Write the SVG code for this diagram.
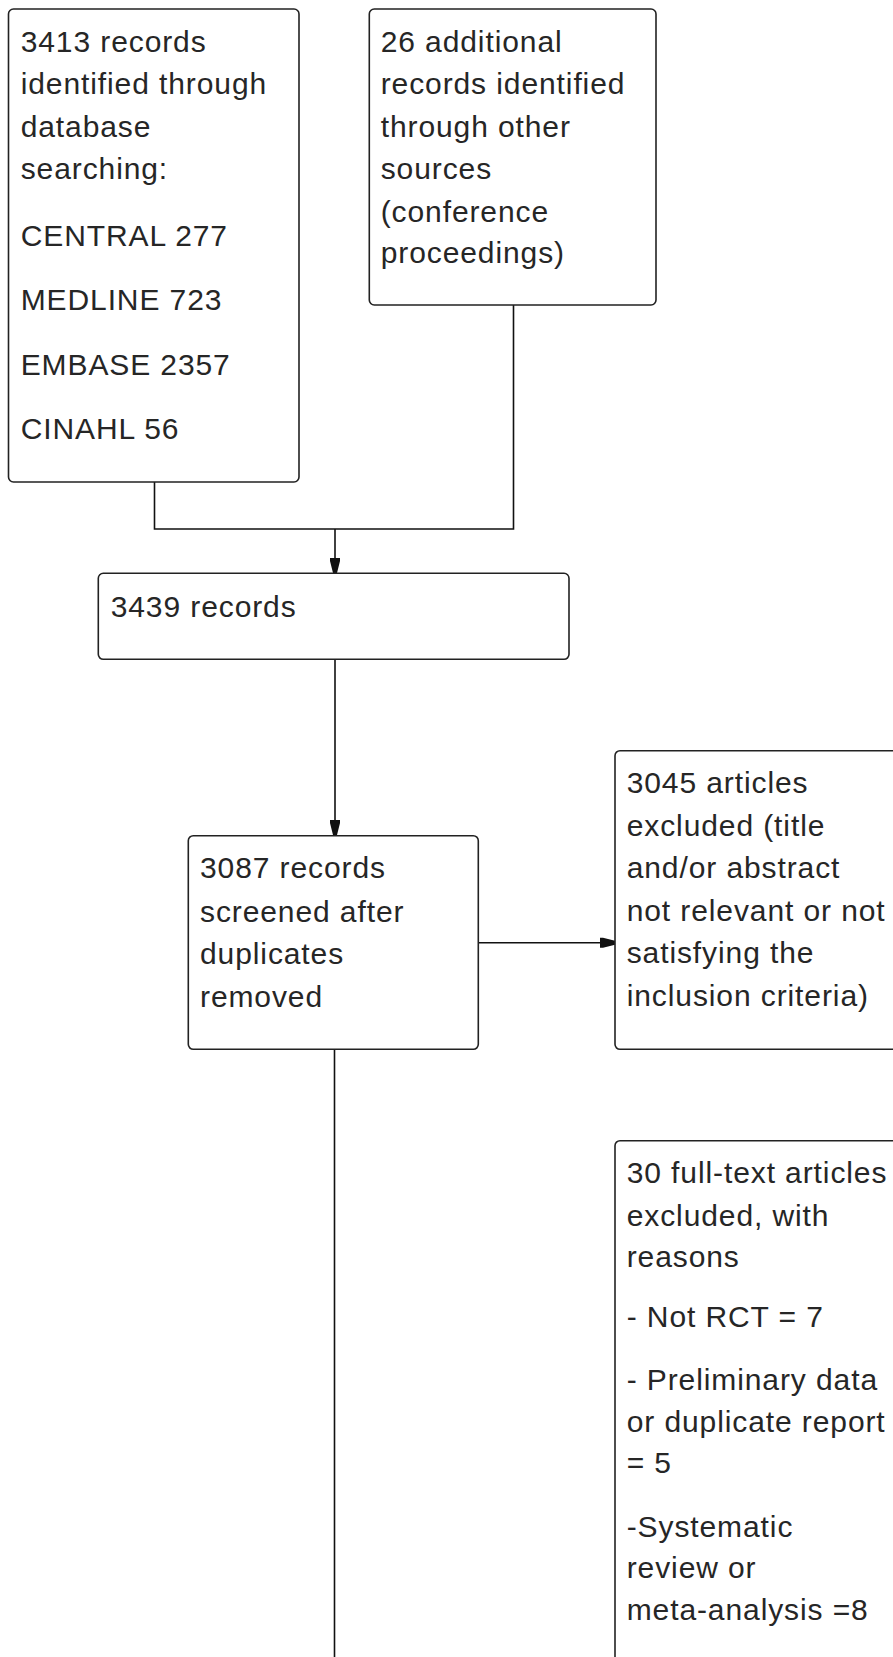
<svg xmlns="http://www.w3.org/2000/svg" width="893" height="1657" viewBox="0 0 893 1657">
<style>
.box{fill:#fff;stroke:#222;stroke-width:1.6}
.t{font-family:"Liberation Sans",Arial,sans-serif;font-size:30px;letter-spacing:0.9px;fill:#262626}
.c{fill:none;stroke:#111;stroke-width:1.6}
</style>
<defs>
<marker id="ah" viewBox="0 0 15 11" refX="15" refY="5.5" markerWidth="15" markerHeight="11" markerUnits="userSpaceOnUse" orient="auto">
<path d="M0,0.5 L3,0.5 L15,3.5 L15,7.5 L3,10.5 L0,10.5 Z" fill="#111"/>
</marker>
</defs>
<rect width="893" height="1657" fill="#fff"/>
<g id="connectors">
<path class="c" d="M154.5,482 V529 H513.5 V305"/>
<path class="c" d="M335,529 V573" marker-end="url(#ah)"/>
<path class="c" d="M335,659 V835" marker-end="url(#ah)"/>
<path class="c" d="M478.5,942.7 H615" marker-end="url(#ah)"/>
<path class="c" d="M334.5,1049 V1657"/>
</g>
<g id="n1">
<rect class="box" x="8.5" y="9" width="290.5" height="473" rx="5"/>
<text class="t" x="20.7" y="52.3">3413 records</text>
<text class="t" x="20.7" y="94">identified through</text>
<text class="t" x="20.7" y="136.7">database</text>
<text class="t" x="20.7" y="179">searching:</text>
<text class="t" x="20.7" y="245.7">CENTRAL 277</text>
<text class="t" x="20.7" y="310">MEDLINE 723</text>
<text class="t" x="20.7" y="375">EMBASE 2357</text>
<text class="t" x="20.7" y="439.3">CINAHL 56</text>
</g>
<g id="n2">
<rect class="box" x="369.3" y="9" width="286.7" height="296" rx="5"/>
<text class="t" x="380.7" y="52.3">26 additional</text>
<text class="t" x="380.7" y="94">records identified</text>
<text class="t" x="380.7" y="136.7">through other</text>
<text class="t" x="380.7" y="179">sources</text>
<text class="t" x="380.7" y="221.7">(conference</text>
<text class="t" x="380.7" y="263.3">proceedings)</text>
</g>
<g id="n3">
<rect class="box" x="98.3" y="573.3" width="470.7" height="86" rx="5"/>
<text class="t" x="110.7" y="616.7">3439 records</text>
</g>
<g id="n4">
<rect class="box" x="188.3" y="835.7" width="290" height="213.6" rx="5"/>
<text class="t" x="200" y="878.3">3087 records</text>
<text class="t" x="200" y="921.7">screened after</text>
<text class="t" x="200" y="964">duplicates</text>
<text class="t" x="200" y="1006.7">removed</text>
</g>
<g id="n5">
<rect class="box" x="615" y="750.7" width="300" height="298.6" rx="5"/>
<text class="t" x="626.7" y="793.3">3045 articles</text>
<text class="t" x="626.7" y="836">excluded (title</text>
<text class="t" x="626.7" y="878.3">and/or abstract</text>
<text class="t" x="626.7" y="920.7">not relevant or not</text>
<text class="t" x="626.7" y="963.3">satisfying the</text>
<text class="t" x="626.7" y="1006">inclusion criteria)</text>
</g>
<g id="n6">
<rect class="box" x="615" y="1140.7" width="300" height="560" rx="5"/>
<text class="t" x="626.7" y="1183.3">30 full-text articles</text>
<text class="t" x="626.7" y="1226">excluded, with</text>
<text class="t" x="626.7" y="1266.7">reasons</text>
<text class="t" x="626.7" y="1326.7">- Not RCT = 7</text>
<text class="t" x="626.7" y="1390">- Preliminary data</text>
<text class="t" x="626.7" y="1431.7">or duplicate report</text>
<text class="t" x="626.7" y="1472.7">= 5</text>
<text class="t" x="626.7" y="1536.7">-Systematic</text>
<text class="t" x="626.7" y="1578.3">review or</text>
<text class="t" x="626.7" y="1620">meta-analysis =8</text>
</g>
</svg>
